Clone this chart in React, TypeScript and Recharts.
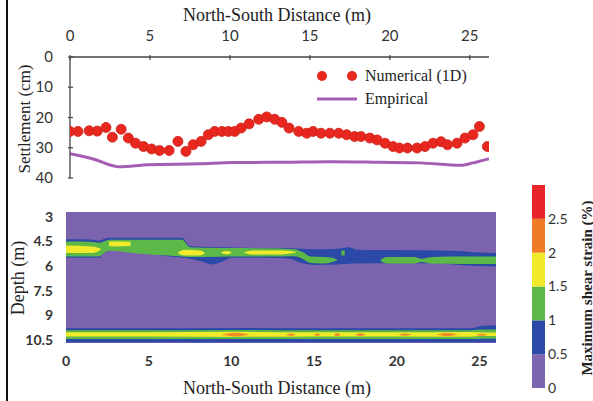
import { ComposedChart, Scatter, Line, Area, XAxis, YAxis, CartesianGrid, BarChart, Bar } from 'recharts';

const TICK_FONT = 'Lato, "DejaVu Sans", sans-serif';
const SERIF = '"Liberation Serif", "DejaVu Serif", serif';

const distTicks = [0, 5, 10, 15, 20, 25];
const settleTicks = [0, 10, 20, 30, 40];
const depthTicks = [3, 4.5, 6, 7.5, 9, 10.5];
const strainLevels = [0, 0.5, 1, 1.5, 2, 2.5, 3];
const strainColors = ['#7d66b0', '#2b4aa8', '#5cb947', '#f1ea2a', '#f07a26', '#e8262a'];

// settlement profile, Numerical (1D)
const numX = [0, 0.5, 1.2, 1.7, 2.25, 2.65, 3.2, 3.65, 4.1, 4.6, 5.1, 5.6, 6.2, 6.75, 7.25, 7.7, 8.2, 8.65, 9.05, 9.5, 9.9, 10.3, 10.7, 11.2, 11.8, 12.3, 12.8, 13.25, 13.7, 14.3, 14.8, 15.2, 15.7, 16.25, 16.8, 17.3, 17.8, 18.2, 18.75, 19.2, 19.7, 20.2, 20.6, 21.1, 21.7, 22.2, 22.7, 23.2, 23.6, 24.2, 24.7, 25.2, 25.6, 26.1];
const numY = [24.6, 24.6, 24.4, 24.5, 23.3, 26.5, 23.9, 26.8, 28.5, 29.6, 30.4, 30.9, 30.9, 27.9, 31.2, 29.0, 27.9, 25.7, 24.6, 24.6, 24.6, 24.6, 23.5, 22.1, 20.6, 19.8, 20.6, 21.6, 23.5, 24.6, 25.2, 24.6, 25.2, 25.2, 25.2, 25.7, 26.3, 26.3, 26.8, 27.4, 28.5, 29.6, 30.1, 30.1, 30.1, 29.6, 28.5, 28.0, 29.0, 28.5, 26.8, 25.7, 23.0, 29.6];

// Empirical
const empX = [0, 1.5, 3.1, 4.9, 8.1, 10.2, 13.3, 16.3, 19.4, 21.9, 24.4, 25.2, 26.2];
const empY = [32.0, 33.8, 36.3, 35.6, 35.3, 34.9, 34.8, 34.6, 34.8, 35.0, 35.8, 35.0, 33.6];

// upper shear zone (depth, m)
const upBlueX = [0, 1.5, 2.0, 2.3, 2.6, 4.0, 7.0, 7.5, 8.3, 8.8, 9.4, 10.0, 12.0, 13.5, 14.2, 15.0, 16.0, 16.8, 17.1, 17.6, 19.0, 21.0, 22.5, 24.0, 25.0, 26.0];
const upBlueTop = [4.36, 4.38, 4.45, 4.35, 4.28, 4.28, 4.28, 4.78, 4.82, 4.85, 4.86, 4.87, 4.9, 4.92, 4.95, 4.97, 4.97, 4.9, 4.85, 5.0, 5.02, 5.03, 5.05, 5.1, 5.18, 5.2];
const upBlueBot = [5.5, 5.5, 5.5, 5.2, 5.05, 5.15, 5.5, 5.55, 5.75, 5.9, 5.75, 5.5, 5.5, 5.55, 5.8, 5.93, 5.92, 5.88, 5.86, 5.85, 5.83, 5.83, 5.85, 5.95, 6.0, 6.03];

const upGreen = [
  {
    x: [0, 1.5, 2.0, 2.3, 2.6, 4.0, 7.0, 7.5, 8.3, 10.0, 12.0, 13.8, 14.3, 14.8, 15.5, 16.1, 16.4],
    top: [4.5, 4.52, 4.58, 4.5, 4.4, 4.4, 4.4, 4.85, 4.88, 4.9, 4.92, 4.97, 5.15, 5.42, 5.45, 5.5, 5.62],
    bottom: [5.42, 5.42, 5.42, 5.2, 5.07, 5.2, 5.42, 5.45, 5.45, 5.42, 5.42, 5.4, 5.55, 5.82, 5.85, 5.75, 5.64],
  },
  { x: [16.65, 16.85], top: [5.05, 5.05], bottom: [5.35, 5.35] },
  {
    x: [19.0, 19.4, 21.0, 21.5, 22.2, 24.0, 26.0],
    top: [5.64, 5.45, 5.45, 5.55, 5.45, 5.42, 5.42],
    bottom: [5.66, 5.85, 5.85, 5.75, 5.86, 5.87, 5.87],
  },
];

const upYellow = [
  { x: [0, 1.6, 2.1], top: [4.75, 4.8, 4.95], bottom: [5.2, 5.2, 5.0] },
  { x: [2.6, 3.0, 3.9], top: [4.52, 4.5, 4.52], bottom: [4.78, 4.8, 4.78] },
  { x: [6.8, 7.2, 8.1, 8.4], top: [5.15, 5.0, 5.05, 5.2], bottom: [5.25, 5.35, 5.35, 5.22] },
  { x: [9.4, 9.7, 10.0], top: [5.15, 5.08, 5.15], bottom: [5.2, 5.28, 5.2] },
  { x: [10.8, 11.3, 13.0, 13.9], top: [5.15, 5.05, 5.05, 5.12], bottom: [5.2, 5.3, 5.3, 5.18] },
];

// lower shear zone
const lowX = [0, 5, 10, 15, 20, 24.5, 25.2, 26];
const lowBlueTop = [9.8, 9.8, 9.78, 9.8, 9.8, 9.8, 9.65, 9.62];
const lowBlueBot = [10.66, 10.66, 10.66, 10.66, 10.66, 10.66, 10.66, 10.66];
const lowGreenTop = [9.92, 9.92, 9.9, 9.92, 9.92, 9.92, 9.88, 9.88];
const lowGreenBot = [10.45, 10.45, 10.46, 10.45, 10.45, 10.46, 10.44, 10.44];
const lowYellowTop = [10.04, 10.05, 10.02, 10.04, 10.05, 10.03, 10.06, 10.06];
const lowYellowBot = [10.3, 10.3, 10.33, 10.3, 10.3, 10.32, 10.28, 10.28];
const hotStart = [9.4, 13.3, 15.0, 16.2, 17.5, 20.1, 22.4, 24.8];
const hotEnd = [11.1, 13.9, 15.4, 16.6, 18.1, 20.9, 23.7, 25.5];
const hotTop = [10.07, 10.12, 10.12, 10.11, 10.11, 10.12, 10.09, 10.13];
const hotBot = [10.3, 10.26, 10.26, 10.27, 10.27, 10.26, 10.28, 10.25];

const pts = (xs: number[], ys: number[]) => xs.map((x, i) => ({ x, y: ys[i] }));
const band = (xs: number[], top: number[], bottom: number[]) =>
  xs.map((x, i) => ({ x, range: [top[i], bottom[i]] }));
const segmented = (segs: { x: number[]; top: number[]; bottom: number[] }[]) => {
  const rows: any[] = [];
  segs.forEach((s, i) => {
    if (i > 0) rows.push({ x: (segs[i - 1].x[segs[i - 1].x.length - 1] + s.x[0]) / 2, range: null });
    s.x.forEach((x, j) => rows.push({ x, range: [s.top[j], s.bottom[j]] }));
  });
  return rows;
};

const hotSegs = hotStart.map((s, i) => {
  const mid = (hotTop[i] + hotBot[i]) / 2;
  return {
    x: [s, (s + hotEnd[i]) / 2, hotEnd[i]],
    top: [mid, hotTop[i], mid],
    bottom: [mid, hotBot[i], mid],
  };
});

const scaleRow = [
  strainColors.reduce((row: any, _, i) => {
    row['s' + i] = strainLevels[i + 1] - strainLevels[i];
    return row;
  }, { name: 'strain' }),
];

const TopXTick = (props: any) => {
  const { x, y, payload } = props;
  return (
    <g>
      <line x1={x} x2={x} y1={y} y2={y + 5} stroke="#444" strokeWidth={1.2} />
      <text x={x} y={y - 14} textAnchor="middle" fontSize={15} fill="#333" fontFamily={TICK_FONT}>
        {payload.value}
      </text>
    </g>
  );
};

const LeftYTick = (props: any) => {
  const { x, y, payload } = props;
  return (
    <g>
      <line x1={x} x2={x + 5} y1={y} y2={y} stroke="#444" strokeWidth={1.2} />
      <text x={x - 15} y={y + 5} textAnchor="end" fontSize={15} fill="#333" fontFamily={TICK_FONT}>
        {payload.value}
      </text>
    </g>
  );
};

const Dot = (props: any) => (
  <circle cx={props.cx} cy={props.cy} r={5} fill="#e8271f" stroke="#cf1f19" strokeWidth={0.8} />
);

const rotated = (cx: number, cy: number, extra: any) => ({
  position: 'absolute' as const,
  left: cx,
  top: cy,
  transform: 'translate(-50%, -50%) rotate(-90deg)',
  whiteSpace: 'nowrap' as const,
  fontFamily: SERIF,
  color: '#222',
  lineHeight: 1,
  ...extra,
});

const centered = (cx: number, cy: number, extra: any) => ({
  position: 'absolute' as const,
  left: cx,
  top: cy,
  transform: 'translate(-50%, -50%)',
  whiteSpace: 'nowrap' as const,
  fontFamily: SERIF,
  color: '#222',
  lineHeight: 1,
  ...extra,
});

export default function App() {
  const boldTick = { fontSize: 14, fontWeight: 700, fill: '#333', fontFamily: TICK_FONT };
  return (
    <div style={{ position: 'absolute', left: 0, top: 0, width: 593, height: 401, background: '#fff', overflow: 'hidden' }}>
      <div style={{ position: 'absolute', left: 6, top: 0, width: 2, height: 401, background: '#111' }} />

      <div style={centered(277, 15, { fontSize: 18 })}>North-South Distance (m)</div>
      <div style={rotated(24, 119, { fontSize: 17 })}>Settlement (cm)</div>

      <div style={{ position: 'absolute', left: 0, top: 0 }}>
        <ComposedChart width={593} height={190} margin={{ top: 27, left: 30, right: 104, bottom: 12 }}>
          <XAxis
            type="number"
            dataKey="x"
            orientation="top"
            domain={[0, 26.2]}
            ticks={distTicks}
            height={30}
            tickSize={0}
            tickLine={false}
            tick={TopXTick}
            axisLine={{ stroke: '#444', strokeWidth: 1.3 }}
            allowDataOverflow
          />
          <YAxis
            type="number"
            dataKey="y"
            reversed
            domain={[0, 40]}
            ticks={settleTicks}
            width={40}
            tickSize={0}
            tickLine={false}
            tick={LeftYTick}
            axisLine={{ stroke: '#444', strokeWidth: 1.3 }}
            allowDataOverflow
          />
          <Line data={pts(empX, empY)} dataKey="y" type="monotone" stroke="#a55db4" strokeWidth={3} dot={false} activeDot={false} isAnimationActive={false} />
          <Scatter data={pts(numX, numY)} dataKey="y" shape={Dot} isAnimationActive={false} />
        </ComposedChart>
      </div>

      <svg style={{ position: 'absolute', left: 0, top: 0 }} width={593} height={120}>
        <circle cx={322} cy={76} r={5} fill="#e8271f" />
        <circle cx={352} cy={76} r={5} fill="#e8271f" />
        <text x={365} y={81} fontSize={16} fontFamily={SERIF} fill="#222">Numerical (1D)</text>
        <line x1={317} x2={357} y1={99} y2={99} stroke="#a55db4" strokeWidth={3} />
        <text x={365} y={104} fontSize={16} fontFamily={SERIF} fill="#222">Empirical</text>
      </svg>

      <div style={rotated(18, 278, { fontSize: 18 })}>Depth (m)</div>
      <div style={centered(277, 388, { fontSize: 18 })}>North-South Distance (m)</div>

      <div style={{ position: 'absolute', left: 0, top: 195 }}>
        <ComposedChart width={593} height={206} margin={{ top: 17, left: 16, right: 97, bottom: 28 }}>
          <CartesianGrid fill="#7b63ad" stroke="none" horizontal={false} vertical={false} />
          <XAxis
            type="number"
            dataKey="x"
            domain={[0, 26]}
            ticks={distTicks}
            height={30}
            tickSize={0}
            tickMargin={13}
            tickLine={false}
            axisLine={false}
            tick={boldTick}
            allowDataOverflow
          />
          <YAxis
            type="number"
            reversed
            domain={[2.7, 10.7]}
            ticks={depthTicks}
            width={50}
            tickSize={0}
            tickMargin={13}
            tickLine={false}
            axisLine={false}
            tick={boldTick}
            allowDataOverflow
          />
          <Area data={band(upBlueX, upBlueTop, upBlueBot)} dataKey="range" type="monotone" stroke="none" fill={strainColors[1]} fillOpacity={1} isAnimationActive={false} activeDot={false} />
          <Area data={segmented(upGreen)} dataKey="range" type="monotone" stroke="none" fill={strainColors[2]} fillOpacity={1} isAnimationActive={false} activeDot={false} />
          <Area data={segmented(upYellow)} dataKey="range" type="monotone" stroke="none" fill={strainColors[3]} fillOpacity={1} isAnimationActive={false} activeDot={false} />
          <Area data={band(lowX, lowBlueTop, lowBlueBot)} dataKey="range" type="monotone" stroke="none" fill={strainColors[1]} fillOpacity={1} isAnimationActive={false} activeDot={false} />
          <Area data={band(lowX, lowGreenTop, lowGreenBot)} dataKey="range" type="monotone" stroke="none" fill={strainColors[2]} fillOpacity={1} isAnimationActive={false} activeDot={false} />
          <Area data={band(lowX, lowYellowTop, lowYellowBot)} dataKey="range" type="monotone" stroke="none" fill={strainColors[3]} fillOpacity={1} isAnimationActive={false} activeDot={false} />
          <Area data={segmented(hotSegs)} dataKey="range" type="monotone" stroke="none" fill={strainColors[4]} fillOpacity={0.85} isAnimationActive={false} activeDot={false} />
        </ComposedChart>
      </div>

      <div style={{ position: 'absolute', left: 500, top: 170 }}>
        <BarChart width={93} height={231} data={scaleRow} margin={{ top: 15, left: 32, right: 18, bottom: 13 }} barCategoryGap={0}>
          <XAxis dataKey="name" hide />
          <YAxis
            orientation="right"
            domain={[0, 3]}
            ticks={strainLevels.slice(0, 6)}
            width={30}
            tickSize={0}
            tickMargin={3}
            tickLine={false}
            axisLine={false}
            tick={{ fontSize: 14, fill: '#333', fontFamily: TICK_FONT, textAnchor: 'start' }}
          />
          {strainColors.map((c, i) => (
            <Bar key={c} dataKey={'s' + i} stackId="strain" fill={c} isAnimationActive={false} />
          ))}
        </BarChart>
      </div>
      <div style={rotated(587, 288, { fontSize: 15, fontWeight: 700 })}>Maximum shear strain (%)</div>
    </div>
  );
}
